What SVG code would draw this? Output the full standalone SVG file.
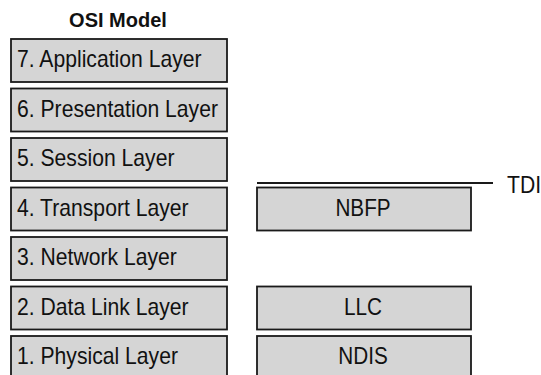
<svg xmlns="http://www.w3.org/2000/svg" width="541" height="375" viewBox="0 0 541 375">
  <style>
    .box { fill: #d5d5d5; stroke: #1a1a1a; stroke-width: 1.8; }
    .lbl { font-family: "Liberation Sans", Arial, sans-serif; font-size: 23px; fill: #111; }
    .ctr { text-anchor: middle; }
    .title { font-family: "Liberation Sans", Arial, sans-serif; font-size: 20px; font-weight: bold; fill: #111; text-anchor: middle; }
  </style>
  <rect width="541" height="375" fill="#fff"/>
  <text class="title" x="118" y="27">OSI Model</text>
  <g id="app"><rect class="box" x="11" y="39" width="216" height="43"/><text class="lbl" transform="translate(17,67) scale(0.92,1)">7. Application Layer</text></g>
  <g id="pres"><rect class="box" x="11" y="88.5" width="216" height="43"/><text class="lbl" transform="translate(17,116.5) scale(0.92,1)">6. Presentation Layer</text></g>
  <g id="sess"><rect class="box" x="11" y="138" width="216" height="43"/><text class="lbl" transform="translate(17,166) scale(0.92,1)">5. Session Layer</text></g>
  <g id="trans"><rect class="box" x="11" y="187.5" width="216" height="43"/><text class="lbl" transform="translate(17,215.5) scale(0.92,1)">4. Transport Layer</text></g>
  <g id="net"><rect class="box" x="11" y="237" width="216" height="43"/><text class="lbl" transform="translate(17,265) scale(0.92,1)">3. Network Layer</text></g>
  <g id="dlink"><rect class="box" x="11" y="286.5" width="216" height="43"/><text class="lbl" transform="translate(17,314.5) scale(0.92,1)">2. Data Link Layer</text></g>
  <g id="phys"><rect class="box" x="11" y="336" width="216" height="45"/><text class="lbl" transform="translate(17,364) scale(0.92,1)">1. Physical Layer</text></g>
  <g id="nbfp"><rect class="box" x="257" y="187.5" width="214" height="43"/><text class="lbl ctr" transform="translate(363,215.5) scale(0.9,1)">NBFP</text></g>
  <g id="llc"><rect class="box" x="257" y="286.5" width="214" height="43"/><text class="lbl ctr" transform="translate(363,314.5) scale(0.9,1)">LLC</text></g>
  <g id="ndis"><rect class="box" x="257" y="336" width="214" height="45"/><text class="lbl ctr" transform="translate(363,364) scale(0.9,1)">NDIS</text></g>
  <g id="connectors">
    <line x1="257" y1="183" x2="493" y2="183" stroke="#1a1a1a" stroke-width="1.8"/>
  </g>
  <g id="tdi"><text class="lbl" transform="translate(507,193) scale(0.92,1)">TDI</text></g>
</svg>
